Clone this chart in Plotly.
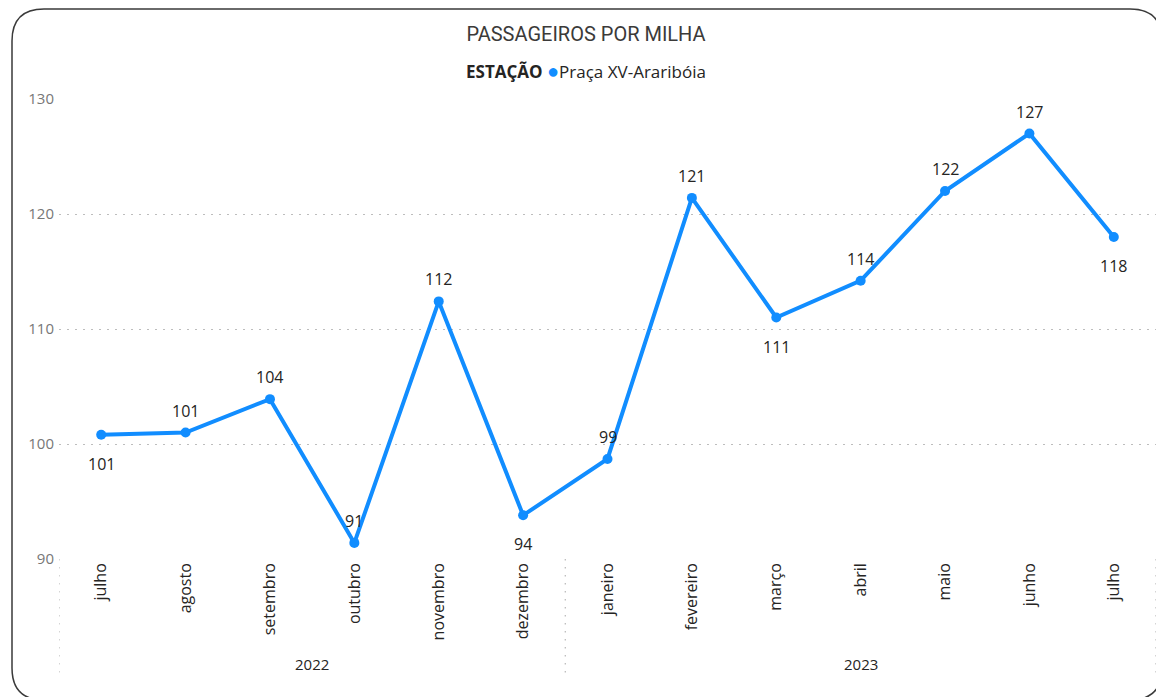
import plotly.graph_objects as go

# dados
anos = ["2022"] * 6 + ["2023"] * 7
meses = ["julho", "agosto", "setembro", "outubro", "novembro", "dezembro",
         "janeiro", "fevereiro", "março", "abril", "maio", "junho", "julho"]
passageiros = [100.8, 101.0, 103.9, 91.4, 112.4, 93.8,
               98.7, 121.4, 111.0, 114.2, 122.0, 127.0, 118.0]
rotulo_abaixo = [True, False, False, False, False, True,
                 False, False, True, False, False, False, True]
y_ticks = [90, 100, 110, 120, 130]
estacao = "Praça XV-Araribóia"

# a página tem 8px de margem no body
W, H = 1156, 689
ml, mr, mt, mb = 51, 8, 91, 138
pw, ph = W - ml - mr, H - mt - mb

idx = list(range(len(meses)))
azul = "#118DFF"
pontilhado = "1.5px,6.5px"


def px2x(p):
    return (p - ml) / pw


def py2y(p):
    return (H - mb - p) / ph


fig = go.Figure()
fig.add_trace(go.Scatter(
    x=idx, y=passageiros,
    mode="lines+markers",
    name=estacao,
    showlegend=False,
    line=dict(color=azul, width=4),
    marker=dict(color=azul, size=10),
    cliponaxis=False,
))

# rótulos de dados
for i, v, abaixo in zip(idx, passageiros, rotulo_abaixo):
    fig.add_annotation(x=i, y=v, text=f"{v:.0f}", showarrow=False,
                       yanchor="middle", yshift=-29 if abaixo else 22,
                       font=dict(family="Open Sans", size=16, color="#252423"))

# anos (segundo nível do eixo) e divisórias pontilhadas
grupos = {}
for i, a in enumerate(anos):
    grupos.setdefault(a, []).append(i)
cortes = [-0.5]
for a, ids in grupos.items():
    fig.add_annotation(x=sum(ids) / len(ids), y=-105 / ph, xref="x", yref="paper",
                       yanchor="middle", text=a, showarrow=False,
                       font=dict(family="Open Sans", size=15, color="#252423"))
    cortes.append(ids[-1] + 0.5)
for c in cortes:
    fig.add_shape(type="line", x0=c, x1=c, y0=0, y1=-119 / ph, xref="x", yref="paper",
                  line=dict(color="#BDBDBD", width=1.3, dash=pontilhado))

# legenda: ESTAÇÃO ● Praça XV-Araribóia
fig.add_annotation(
    x=px2x(586 - 8), y=1 + 29 / ph, xref="paper", yref="paper",
    xanchor="center", yanchor="middle", showarrow=False,
    text=(f"<b>ESTAÇÃO</b> <span style='color:{azul};font-size:20px'>●</span>"
          f"{estacao}"),
    font=dict(family="Open Sans", size=17, color="#252423"),
)

# moldura arredondada
x0, x1, y0, y1, r = 4, 1154, 1, 692, 32
path = (f"M {px2x(x0 + r)},{py2y(y0)} L {px2x(x1 - r)},{py2y(y0)} "
        f"Q {px2x(x1)},{py2y(y0)} {px2x(x1)},{py2y(y0 + r)} "
        f"L {px2x(x1)},{py2y(y1 - r)} Q {px2x(x1)},{py2y(y1)} {px2x(x1 - r)},{py2y(y1)} "
        f"L {px2x(x0 + r)},{py2y(y1)} Q {px2x(x0)},{py2y(y1)} {px2x(x0)},{py2y(y1 - r)} "
        f"L {px2x(x0)},{py2y(y0 + r)} Q {px2x(x0)},{py2y(y0)} {px2x(x0 + r)},{py2y(y0)} Z")
fig.add_shape(type="path", path=path, xref="paper", yref="paper",
              line=dict(color="#3A3A3A", width=1.5), layer="below")

fig.update_layout(
    width=W, height=H,
    margin=dict(l=ml, r=mr, t=mt, b=mb),
    paper_bgcolor="white", plot_bgcolor="white",
    title=dict(text="PASSAGEIROS POR MILHA", x=0.5, xanchor="center",
               y=1 - 26 / H, yanchor="middle",
               font=dict(family="Roboto", size=20, color="#3B3A39")),
    showlegend=False,
    xaxis=dict(range=[-0.5, len(meses) - 0.5], tickvals=idx, ticktext=meses,
               tickangle=-90, showgrid=False, zeroline=False, showline=False,
               ticks="", tickfont=dict(family="Open Sans", size=16, color="#252423")),
    yaxis=dict(range=[90, 130], tickvals=y_ticks, showgrid=True,
               gridcolor="#BDBDBD", griddash=pontilhado, gridwidth=1.3,
               zeroline=False, showline=False, ticks="", ticklabelstandoff=4,
               tickfont=dict(family="Open Sans", size=15, color="#777777")),
    font=dict(family="Open Sans"),
)

fig.write_html("out.html")
